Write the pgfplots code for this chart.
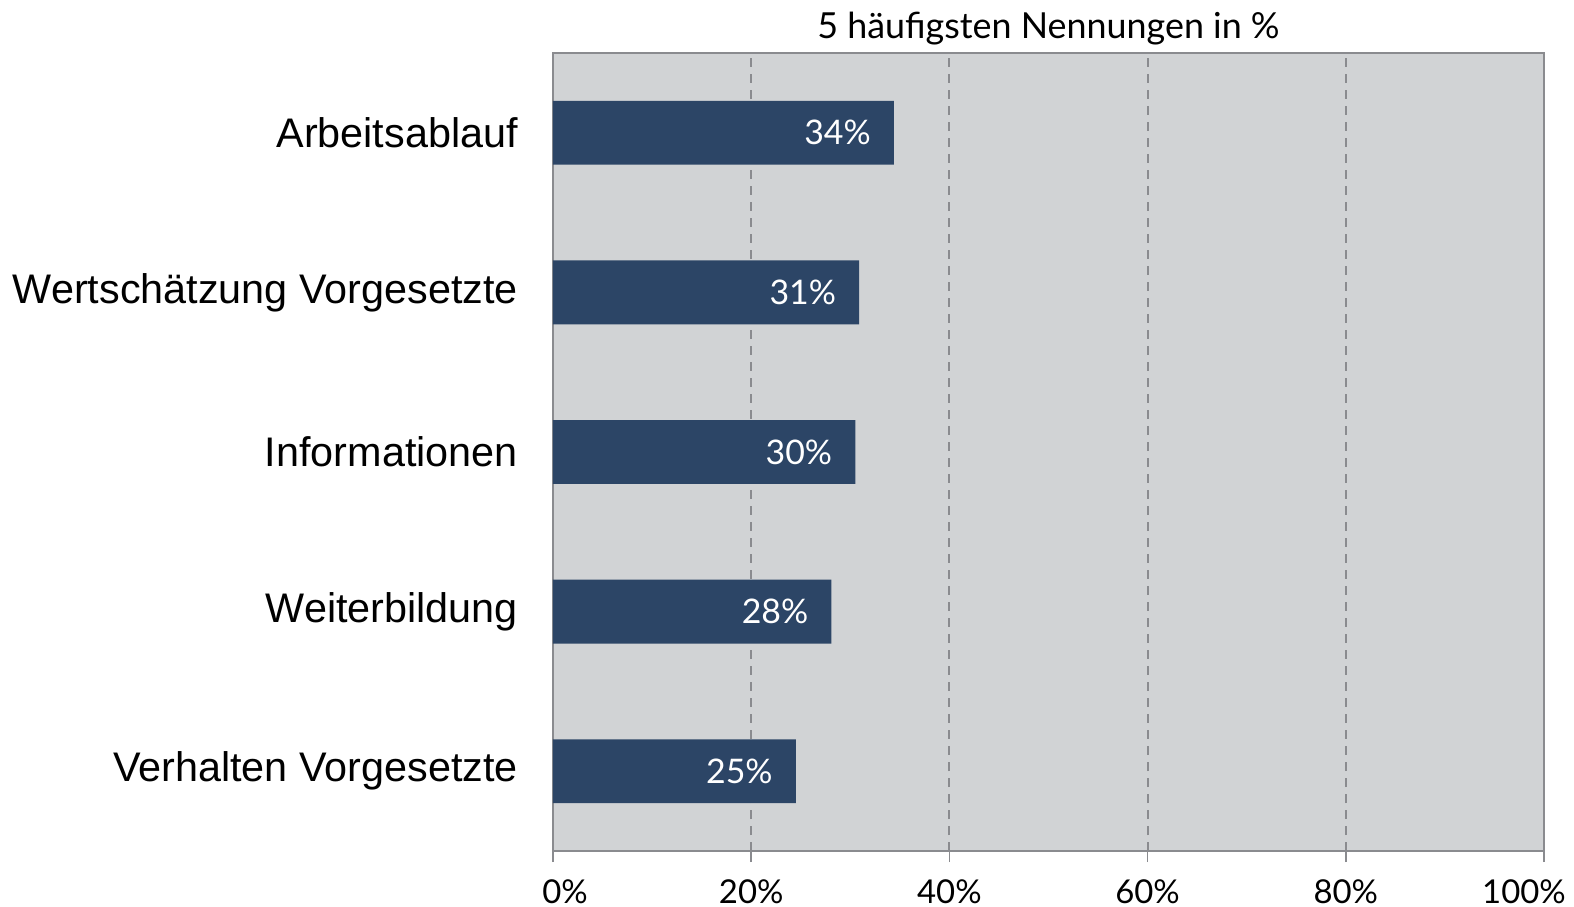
\documentclass[border=0pt]{standalone}
\usepackage{fontspec}
\setmainfont{Liberation Sans}
\newfontfamily\latofont{Lato}
\usepackage{pgfplots}
\pgfplotsset{compat=1.18}
\definecolor{barblue}{HTML}{2C4566}
\definecolor{bggray}{HTML}{D1D3D5}
\definecolor{axgray}{HTML}{8A8B8F}
\begin{document}
\begin{tikzpicture}
\path[use as bounding box] (-553bp,-56bp) rectangle (1021bp,851bp);
\begin{axis}[
  at={(0,0)}, anchor=south west,
  scale only axis, width=991bp, height=798bp,
  xbar, bar width=0.4,
  xmin=0, xmax=100, ymin=-0.5, ymax=4.5,
  axis background/.style={fill=bggray},
  axis line style={axgray, line width=1.6bp},
  xtick={0,20,40,60,80,100},
  xticklabels={\hspace*{24bp}0\%, 20\%, 40\%, 60\%, 80\%, 100\%\hspace*{40bp}},
  xtick pos=bottom, tick align=outside, major tick length=11bp,
  xtick style={axgray, line width=1.6bp},
  ytick={0,1,2,3,4},
  yticklabels={Verhalten Vorgesetzte, Weiterbildung, Informationen, Wertschätzung Vorgesetzte, Arbeitsablauf},
  ytick style={draw=none},
  yticklabel style={font=\fontsize{41.5}{41.5}\selectfont, anchor=east, inner sep=0pt, xshift=-24bp},
  xticklabel style={font=\latofont\fontsize{33}{33}\selectfont, anchor=base, inner sep=0pt, yshift=-41bp},
  xmajorgrids=true,
  major x grid style={axgray, line width=1.8bp, dash pattern=on 9bp off 7bp},
  title={5 häufigsten Nennungen in \%},
  title style={font=\latofont\fontsize{36}{36}\selectfont, at={(0.5,1)}, anchor=base, yshift=9bp, inner sep=0pt},
  point meta=explicit symbolic,
  nodes near coords={\pgfplotspointmeta\%},
  every node near coord/.append style={anchor=east, text=white, font=\latofont\fontsize{34}{34}\selectfont, inner sep=0pt, xshift=-23bp},
]
\addplot[fill=barblue, draw=none] table[x=x, y=y, meta=l] {
x y l
24.5 0 25
28.1 1 28
30.5 2 30
30.9 3 31
34.4 4 34
};
\end{axis}
\end{tikzpicture}
\end{document}
